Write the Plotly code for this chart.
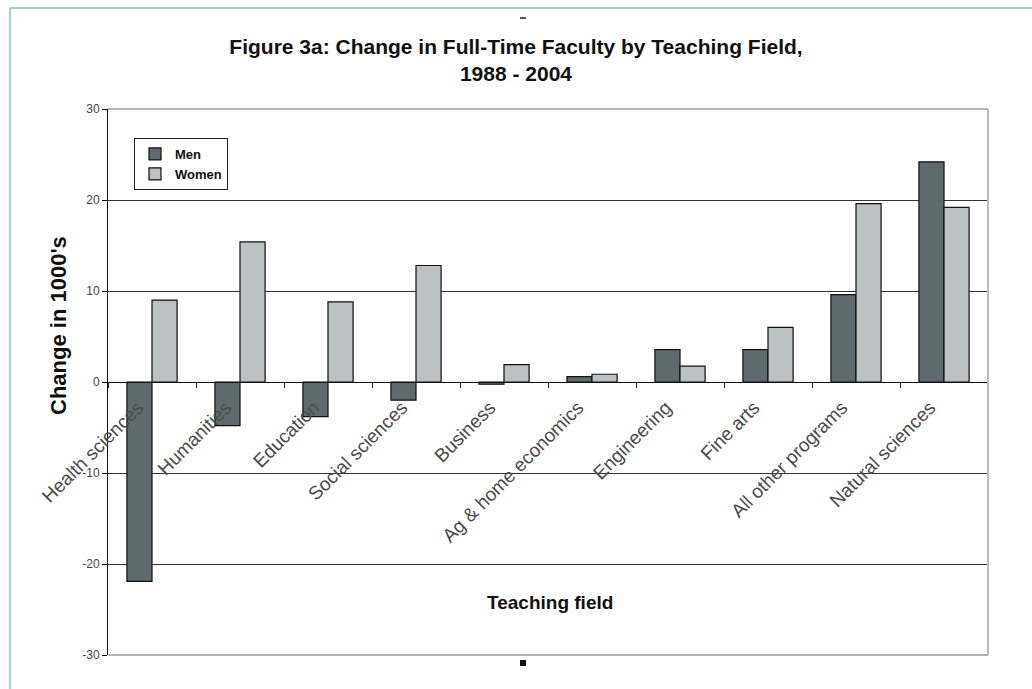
import plotly.graph_objects as go

categories = ["Health sciences", "Humanities", "Education", "Social sciences", "Business",
              "Ag & home economics", "Engineering", "Fine arts", "All other programs", "Natural sciences"]
men = [-21.9, -4.8, -3.8, -2.0, -0.25, 0.6, 3.55, 3.55, 9.6, 24.2]
women = [9.0, 15.4, 8.8, 12.8, 1.9, 0.85, 1.75, 6.0, 19.6, 19.2]
y_ticks = [-30, -20, -10, 0, 10, 20, 30]

SANS = "Liberation Sans, Arial, sans-serif"

fig = go.Figure()
fig.add_trace(go.Bar(name="Men", x=categories, y=men, marker=dict(color="#5f6a6f", line=dict(color="#111", width=1.2))))
fig.add_trace(go.Bar(name="Women", x=categories, y=women, marker=dict(color="#bcc1c3", line=dict(color="#111", width=1.2))))

L, T, R, B = 108, 109, 988, 655
W, H = 1032, 689
PW, PH = R - L, B - T


def px(x):
    return (x - L) / PW


def py(y):
    return (B - y) / PH


fig.update_layout(
    width=W, height=H,
    margin=dict(l=L, r=W - R, t=T, b=H - B),
    paper_bgcolor="white", plot_bgcolor="white",
    barmode="group", bargap=0.43, bargroupgap=0,
    title=dict(text="<b>Figure 3a: Change in Full-Time Faculty by Teaching Field,<br>1988 - 2004</b>",
               x=0.5, xanchor="center", y=1 - 54 / H, yanchor="middle",
               font=dict(family=SANS, size=21, color="#111")),
    legend=dict(x=px(134), y=py(138), xanchor="left", yanchor="top", bgcolor="white",
                bordercolor="#222", borderwidth=1,
                font=dict(family=SANS, size=13, color="#111", weight="bold"),
                itemwidth=30, tracegroupgap=0),
    showlegend=True,
    font=dict(family=SANS),
)
fig.update_xaxes(type="category", anchor="free", position=0.5, showgrid=False,
                 showline=True, linecolor="#111", linewidth=1,
                 tickson="boundaries", ticks="outside", ticklen=5, tickcolor="#222",
                 tickangle=-45, ticklabelshift=-14, ticklabelstandoff=6,
                 tickfont=dict(family=SANS, size=19, color="#4a4a4a"))
fig.update_yaxes(range=[-30, 30], tickvals=y_ticks, ticktext=[str(v) for v in y_ticks],
                 showgrid=True, gridcolor="#333", gridwidth=1,
                 zeroline=False, showline=True, linecolor="#111", linewidth=1,
                 ticks="outside", ticklen=5, tickcolor="#111",
                 tickfont=dict(family=SANS, size=12, color="#444"))

# y-axis title
fig.add_annotation(text="<b>Change in 1000's</b>", xref="paper", yref="paper", x=px(58), y=py(326),
                   textangle=-90, showarrow=False, xanchor="center", yanchor="middle",
                   font=dict(family=SANS, size=22, color="#111"))

# plot border (top/right/bottom in light gray)
fig.add_shape(type="line", xref="paper", yref="paper", x0=0, x1=1, y0=1, y1=1, line=dict(color="#999", width=1.5))
fig.add_shape(type="line", xref="paper", yref="paper", x0=0, x1=1, y0=0, y1=0, line=dict(color="#999", width=1.5))
fig.add_shape(type="line", xref="paper", yref="paper", x0=1, x1=1, y0=0, y1=1, line=dict(color="#bbb", width=2))

fig.add_annotation(text="<b>Teaching field</b>", xref="paper", yref="paper", x=px(550), y=py(602),
                   showarrow=False, xanchor="center", yanchor="middle",
                   font=dict(family=SANS, size=19, color="#111"))

# outer frame
fig.add_shape(type="line", xref="paper", yref="paper", x0=px(10), x1=px(10),
              y0=py(H), y1=py(8), line=dict(color="#7fbfcf", width=1.5))
fig.add_shape(type="line", xref="paper", yref="paper", x0=px(10), x1=px(W),
              y0=py(8), y1=py(8), line=dict(color="#7fbfcf", width=1.5))

# small scan marks
fig.add_shape(type="line", xref="paper", yref="paper", x0=px(520), x1=px(526),
              y0=py(18), y1=py(18), line=dict(color="#222", width=1.5))
fig.add_shape(type="rect", xref="paper", yref="paper", x0=px(520), x1=px(526),
              y0=py(666), y1=py(660), line=dict(width=0), fillcolor="#111")

fig.write_html("out.html", config={"displayModeBar": False},
               post_script="document.body.style.margin='0';document.body.style.overflow='hidden';")
